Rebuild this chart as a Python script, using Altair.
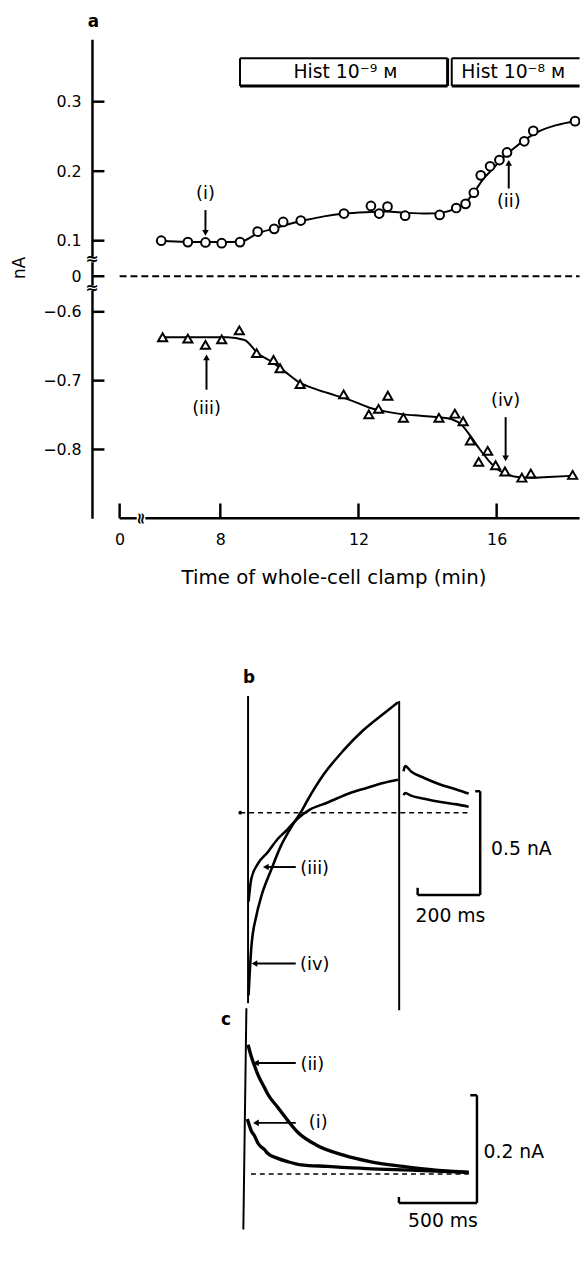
import altair as alt
import pandas as pd

FONT = "DejaVu Sans"
INK = "black"

# ---------------- panel a : values ----------------
circ_t = [6.29, 7.06, 7.57, 8.04, 8.57, 9.08, 9.56, 9.82, 10.33, 11.58, 12.36, 12.60, 12.84,
          13.35, 14.35, 14.83, 15.10, 15.34, 15.54, 15.81, 16.08, 16.30, 16.80, 17.06, 18.27]
circ_nA = [0.100, 0.096, 0.095, 0.093, 0.096, 0.113, 0.117, 0.127, 0.129, 0.139, 0.150, 0.139, 0.149,
           0.136, 0.137, 0.147, 0.153, 0.169, 0.194, 0.207, 0.216, 0.227, 0.243, 0.258, 0.272]
tri_t = [6.33, 7.06, 7.57, 8.04, 8.55, 9.05, 9.54, 9.73, 10.31, 11.57, 12.30, 12.58, 12.85,
         13.30, 14.33, 14.79, 15.03, 15.24, 15.48, 15.74, 15.97, 16.24, 16.73, 16.99, 18.20]
tri_nA = [-0.637, -0.639, -0.648, -0.640, -0.627, -0.660, -0.670, -0.682, -0.705, -0.720, -0.749, -0.741, -0.722,
          -0.754, -0.754, -0.748, -0.759, -0.787, -0.818, -0.802, -0.823, -0.832, -0.841, -0.835, -0.837]
fit_up_t = [6.29, 7.0, 7.6, 8.1, 8.6, 9.1, 9.6, 10.0, 10.5, 11.0, 11.6, 12.2, 12.8, 13.4, 14.0,
            14.4, 14.8, 15.1, 15.35, 15.6, 15.9, 16.2, 16.5, 16.9, 17.3, 17.7, 18.3]
fit_up_nA = [0.100, 0.097, 0.096, 0.096, 0.098, 0.111, 0.118, 0.124, 0.130, 0.135, 0.139, 0.141, 0.142, 0.140, 0.139,
             0.140, 0.146, 0.155, 0.170, 0.188, 0.204, 0.220, 0.233, 0.248, 0.259, 0.266, 0.272]
fit_lo_t = [6.33, 7.0, 7.6, 8.2, 8.7, 9.1, 9.5, 9.9, 10.3, 10.8, 11.3, 11.8, 12.3, 12.8, 13.3, 13.8,
            14.3, 14.7, 15.0, 15.25, 15.5, 15.75, 16.0, 16.3, 16.6, 17.0, 17.5, 18.3]
fit_lo_nA = [-0.637, -0.637, -0.637, -0.637, -0.641, -0.661, -0.673, -0.688, -0.703, -0.713, -0.721, -0.729,
             -0.739, -0.745, -0.749, -0.751, -0.753, -0.756, -0.765, -0.781, -0.799, -0.815, -0.828, -0.836,
             -0.840, -0.841, -0.840, -0.838]

hist_label = ["Hist 10\u207b\u2079 \u1d0d", "Hist 10\u207b\u2078 \u1d0d"]
hist_t0 = [8.57, 14.70]
hist_t1 = [14.58, 18.40]
hist_mid = [11.62, 16.48]
hist_lo, hist_hi, hist_text = 0.3227, 0.3624, 0.3426

y_ticks = [0.3, 0.2, 0.1, 0, -0.6, -0.7, -0.8]
x_ticks = [0, 8, 12, 16]

ann_a_label = ["(i)", "(ii)", "(iii)", "(iv)"]
ann_a_t = [7.57, 16.35, 7.60, 16.26]
ann_a_nA = [0.1677, 0.1557, -0.7406, -0.729]
arr_a_from = [0.144, 0.175, -0.7132, -0.753]
arr_a_head = [0.1113, 0.2121, -0.6662, -0.813]
arr_a_shape = ["triangle-down", "triangle-up", "triangle-up", "triangle-down"]

# ---------------- panel b : current traces (ms, nA) ----------------
b_iv_t = [1.6, 4.7, 10.4, 26, 42, 74, 105, 142, 168, 190, 242, 305, 368, 432, 479]
b_iv_nA = [-0.881, -0.79, -0.65, -0.50, -0.405, -0.275, -0.16, -0.06, 0.0, 0.06, 0.185, 0.30, 0.397, 0.476, 0.532]
b_iii_t = [1.5, 10.4, 31.6, 63.2, 94.7, 126.3, 157.9, 198.9, 252.6, 326.2, 378.9, 431.6, 479]
b_iii_nA = [-0.429, -0.318, -0.246, -0.190, -0.127, -0.080, -0.029, 0.016, 0.048, 0.095, 0.119, 0.143, 0.159]
b_tail_t = [497, 502, 521, 563, 616, 668, 705]
b_tail_iv = [0.20, 0.225, 0.199, 0.167, 0.135, 0.111, 0.092]
b_tail_iii = [0.085, 0.095, 0.082, 0.067, 0.051, 0.040, 0.029]

# ---------------- panel c : current traces (ms, nA) ----------------
c_ii_t = [6.3, 27, 49, 70, 112, 133, 196, 259, 323, 449, 618, 787, 998, 1209, 1420]
c_ii_nA = [0.240, 0.218, 0.200, 0.184, 0.160, 0.148, 0.124, 0.100, 0.078, 0.053, 0.035, 0.023, 0.014, 0.007, 0.003]
c_i_t = [2, 27, 49, 70, 112, 133, 196, 259, 344, 513, 766, 1082, 1420]
c_i_nA = [0.102, 0.080, 0.070, 0.057, 0.045, 0.038, 0.029, 0.023, 0.017, 0.014, 0.010, 0.007, 0.003]

# ---------------- scales ----------------
WA = 489
xA = alt.Scale(domain=[-1, 0, 5.5, 18.27], range=[0, 28, 42.5, WA], nice=False, zero=False)
yA = alt.Scale(domain=[-0.9, -0.6, 0, 0.1, 0.39], range=[485, 276, 240, 204, 0], nice=False, zero=False)
xB = alt.Scale(domain=[-498.9, 1045.2], nice=False, zero=False)
yB = alt.Scale(domain=[-0.9333, 1.4190], nice=False, zero=False)
xC = alt.Scale(domain=[-993.7, 2101.3], nice=False, zero=False)
yC = alt.Scale(domain=[-0.1033, 0.3114], nice=False, zero=False)

axX = alt.Axis(values=x_ticks, domain=False, ticks=False, grid=False, labelPadding=14,
               labelFontSize=16, labelFont=FONT, labelColor=INK, labelFlush=False,
               labelOverlap=False, format="d", title="Time of whole-cell clamp (min)",
               titleFont=FONT, titleFontSize=20, titleFontWeight="normal", titleColor=INK,
               titlePadding=20)
axY = alt.Axis(values=y_ticks, domain=True, domainColor=INK, domainWidth=2.5, ticks=False,
               grid=False, labelPadding=11, labelFontSize=16, labelFont=FONT, labelColor=INK,
               labelFlush=False, labelOverlap=False,
               labelExpr="datum.value == 0 ? '0' : format(datum.value, '.1f')",
               title="nA", titleFont=FONT, titleFontSize=17, titleFontWeight="normal",
               titleColor=INK, titleX=-64, titleY=231)


def XA(f="t"):
    return alt.X(f, type="quantitative", scale=xA, axis=axX)


def YA(f="nA"):
    return alt.Y(f, type="quantitative", scale=yA, axis=axY)


def XB(f="t"):
    return alt.X(f, type="quantitative", scale=xB, axis=None)


def YB(f="nA"):
    return alt.Y(f, type="quantitative", scale=yB, axis=None)


def XC(f="t"):
    return alt.X(f, type="quantitative", scale=xC, axis=None)


def YC(f="nA"):
    return alt.Y(f, type="quantitative", scale=yC, axis=None)


def txt(**kw):
    base = dict(font=FONT, color=INK, baseline="middle", align="center")
    base.update(kw)
    return base


# ---------------- panel a layers ----------------
zero_a = alt.Chart(pd.DataFrame({"t": [0], "t2": [18.40], "nA": [0]})).mark_rule(
    color=INK, strokeWidth=1.8, strokeDash=[7, 4]
).encode(x=XA(), x2="t2", y=YA())

hist_df = pd.DataFrame({"t": hist_t0, "t2": hist_t1, "nA": [hist_lo] * 2, "nA2": [hist_hi] * 2,
                        "tm": hist_mid, "ny": [hist_text] * 2, "label": hist_label})
hist_box = alt.Chart(hist_df).mark_rect(fill="white", strokeWidth=0).encode(
    x=XA(), x2="t2", y=YA(), y2="nA2")
hist_top = alt.Chart(hist_df).mark_rule(color=INK, strokeWidth=2).encode(
    x=XA(), x2="t2", y=YA("nA2"))
hist_bottom = alt.Chart(hist_df).mark_rule(color=INK, strokeWidth=3).encode(
    x=XA(), x2="t2", y=YA())
hist_left = alt.Chart(hist_df).mark_rule(color=INK, strokeWidth=2).encode(
    x=XA(), y=YA(), y2="nA2")
hist_right = alt.Chart(hist_df.iloc[:1]).mark_rule(color=INK, strokeWidth=3).encode(
    x=XA("t2"), y=YA(), y2="nA2")
hist_txt = alt.Chart(hist_df).mark_text(**txt(fontSize=19)).encode(
    x=XA("tm"), y=YA("ny"), text="label")

fit_up = alt.Chart(pd.DataFrame({"t": fit_up_t, "nA": fit_up_nA})).mark_line(
    color=INK, strokeWidth=2, interpolate="monotone").encode(x=XA(), y=YA())
fit_lo = alt.Chart(pd.DataFrame({"t": fit_lo_t, "nA": fit_lo_nA})).mark_line(
    color=INK, strokeWidth=2, interpolate="monotone").encode(x=XA(), y=YA())
circles = alt.Chart(pd.DataFrame({"t": circ_t, "nA": circ_nA})).mark_point(
    shape="circle", filled=True, fill="white", stroke=INK, strokeWidth=2, size=78, opacity=1
).encode(x=XA(), y=YA())
triangles = alt.Chart(pd.DataFrame({"t": tri_t, "nA": tri_nA})).mark_point(
    shape="triangle-up", filled=True, fill="white", stroke=INK, strokeWidth=2, size=85, opacity=1
).encode(x=XA(), y=YA())

ytick_df = pd.DataFrame({"t": [-1] * len(y_ticks), "t2": [-0.55] * len(y_ticks), "nA": y_ticks})
yticks = alt.Chart(ytick_df).mark_rule(color=INK, strokeWidth=2.5).encode(x=XA(), x2="t2", y=YA())

xtick_df = pd.DataFrame({"t": x_ticks, "nA": [-0.9] * 4, "nA2": [-0.8785] * 4})
xticks = alt.Chart(xtick_df).mark_rule(color=INK, strokeWidth=2.5).encode(x=XA(), y=YA(), y2="nA2")

xline_df = pd.DataFrame({"t": [0, 5.83], "t2": [5.58, 18.40], "nA": [-0.9, -0.9]})
xline = alt.Chart(xline_df).mark_rule(color=INK, strokeWidth=2.5).encode(x=XA(), x2="t2", y=YA())

brk_df = pd.DataFrame({"t": [-1, -1, 5.7], "nA": [0.047, -0.2, -0.9], "ang": [0, 0, 90], "s": ["\u2248"] * 3})
brk_gap = alt.Chart(brk_df).mark_point(shape="square", filled=True, color="white", size=30,
                                       opacity=1).encode(x=XA(), y=YA())
brk_sym = alt.Chart(brk_df).mark_text(**txt(fontSize=16, fontWeight="bold")).encode(
    x=XA(), y=YA(), text="s", angle=alt.Angle("ang:Q", scale=None))

ann_df = pd.DataFrame({"t": ann_a_t, "nA": ann_a_nA, "label": ann_a_label,
                       "a0": arr_a_from, "a1": arr_a_head, "shape": arr_a_shape})
ann_txt = alt.Chart(ann_df).mark_text(**txt(fontSize=18)).encode(x=XA(), y=YA(), text="label")
ann_line = alt.Chart(ann_df).mark_rule(color=INK, strokeWidth=2).encode(x=XA(), y=YA("a0"), y2="a1")
ann_head = alt.Chart(ann_df).mark_point(filled=True, color=INK, size=45, opacity=1).encode(
    x=XA(), y=YA("a1"), shape=alt.Shape("shape:N", scale=None))

lab_a = alt.Chart(pd.DataFrame({"t": [-0.95], "nA": [0.4142], "s": ["a"]})).mark_text(
    **txt(fontSize=17, fontWeight="bold")).encode(x=XA(), y=YA(), text="s")

panel_a = alt.layer(zero_a, hist_box, hist_top, hist_bottom, hist_left, hist_right, hist_txt,
                    fit_up, fit_lo, circles, triangles, yticks, xticks, xline, brk_gap, brk_sym,
                    ann_line, ann_head, ann_txt, lab_a).properties(width=WA, height=485)

# ---------------- panel b layers ----------------
b_vert = alt.Chart(pd.DataFrame({"t": [0, 483], "nA": [0.562, 0.538], "nA2": [-0.919, -0.952]})).mark_rule(
    color=INK, strokeWidth=2).encode(x=XB(), y=YB(), y2="nA2")
b_zero = alt.Chart(pd.DataFrame({"t": [-25], "t2": [704], "nA": [0]})).mark_rule(
    color=INK, strokeWidth=1.6, strokeDash=[5, 4]).encode(x=XB(), x2="t2", y=YB())
b_dot = alt.Chart(pd.DataFrame({"t": [-25], "nA": [0]})).mark_point(
    shape="circle", filled=True, color=INK, size=14, opacity=1).encode(x=XB(), y=YB())
b_trace_df = pd.concat([
    pd.DataFrame({"t": b_iv_t, "nA": b_iv_nA, "k": "iv"}),
    pd.DataFrame({"t": b_iii_t, "nA": b_iii_nA, "k": "iii"}),
    pd.DataFrame({"t": b_tail_t, "nA": b_tail_iv, "k": "iv tail"}),
    pd.DataFrame({"t": b_tail_t, "nA": b_tail_iii, "k": "iii tail"}),
])
b_traces = alt.Chart(b_trace_df).mark_line(color=INK, strokeWidth=2.6, interpolate="monotone").encode(
    x=XB(), y=YB(), detail="k:N")
b_bar = alt.Chart(pd.DataFrame({"t": [742, 726, 542, 542], "t2": [742, 742, 742, 542],
                                "nA": [0.1033, 0.1033, -0.3967, -0.3967],
                                "nA2": [-0.3967, 0.1033, -0.3967, -0.362]})).mark_rule(
    color=INK, strokeWidth=2.5).encode(x=XB(), x2="t2", y=YB(), y2="nA2")
b_bar_left = alt.Chart(pd.DataFrame({"t": [776.8], "nA": [-0.176], "s": ["0.5 nA"]})).mark_text(
    **txt(fontSize=19, align="left")).encode(x=XB(), y=YB(), text="s")
b_bar_mid = alt.Chart(pd.DataFrame({"t": [647], "nA": [-0.5], "s": ["200 ms"]})).mark_text(
    **txt(fontSize=19)).encode(x=XB(), y=YB(), text="s")
b_ann = pd.DataFrame({"t": [213, 213], "nA": [-0.273, -0.735], "s": ["(iii)", "(iv)"],
                      "a0": [152.5, 152.5], "a1": [56.8, 20.5], "ay": [-0.262, -0.727]})
b_ann_txt = alt.Chart(b_ann).mark_text(**txt(fontSize=18)).encode(x=XB(), y=YB(), text="s")
b_ann_line = alt.Chart(b_ann).mark_rule(color=INK, strokeWidth=2).encode(x=XB("a0"), x2="a1", y=YB("ay"))
b_ann_head = alt.Chart(b_ann).mark_point(shape="triangle-left", filled=True, color=INK, size=45,
                                         opacity=1).encode(x=XB("a1"), y=YB("ay"))
b_lab = alt.Chart(pd.DataFrame({"t": [3], "nA": [0.65], "s": ["b"]})).mark_text(
    **txt(fontSize=17, fontWeight="bold")).encode(x=XB(), y=YB(), text="s")

panel_b = alt.layer(b_zero, b_dot, b_vert, b_traces, b_bar, b_bar_left, b_bar_mid, b_ann_line,
                    b_ann_head, b_ann_txt, b_lab).properties(width=WA, height=494)

# ---------------- panel c layers ----------------
c_vert = alt.Chart(pd.DataFrame({"t": [-4.4], "t2": [-24], "nA": [0.3077], "nA2": [-0.1033]})).mark_rule(
    color=INK, strokeWidth=2).encode(x=XC(), x2="t2", y=YC(), y2="nA2")
c_zero = alt.Chart(pd.DataFrame({"t": [25], "t2": [1420], "nA": [0]})).mark_rule(
    color=INK, strokeWidth=1.6, strokeDash=[5, 4]).encode(x=XC(), x2="t2", y=YC())
c_trace_df = pd.concat([
    pd.DataFrame({"t": c_ii_t, "nA": c_ii_nA, "k": "ii"}),
    pd.DataFrame({"t": c_i_t, "nA": c_i_nA, "k": "i"}),
])
c_traces = alt.Chart(c_trace_df).mark_line(color=INK, strokeWidth=3.4, interpolate="monotone").encode(
    x=XC(), y=YC(), detail="k:N")
c_bar = alt.Chart(pd.DataFrame({"t": [1472.8, 1430, 972.8, 972.8], "t2": [1472.8, 1472.8, 1472.8, 972.8],
                                "nA": [0.1462, 0.1462, -0.0538, -0.0538],
                                "nA2": [-0.0538, 0.1462, -0.0538, -0.0428]})).mark_rule(
    color=INK, strokeWidth=2.5).encode(x=XC(), x2="t2", y=YC(), y2="nA2")
c_bar_left = alt.Chart(pd.DataFrame({"t": [1514.6], "nA": [0.0411], "s": ["0.2 nA"]})).mark_text(
    **txt(fontSize=19, align="left")).encode(x=XC(), y=YC(), text="s")
c_bar_mid = alt.Chart(pd.DataFrame({"t": [1255], "nA": [-0.088], "s": ["500 ms"]})).mark_text(
    **txt(fontSize=19)).encode(x=XC(), y=YC(), text="s")
c_ann = pd.DataFrame({"t": [418, 456], "nA": [0.2031, 0.0943], "s": ["(ii)", "(i)"],
                      "a0": [312, 312], "a1": [57, 57], "ay": [0.2062, 0.0949]})
c_ann_txt = alt.Chart(c_ann).mark_text(**txt(fontSize=18)).encode(x=XC(), y=YC(), text="s")
c_ann_line = alt.Chart(c_ann).mark_rule(color=INK, strokeWidth=2).encode(x=XC("a0"), x2="a1", y=YC("ay"))
c_ann_head = alt.Chart(c_ann).mark_point(shape="triangle-left", filled=True, color=INK, size=45,
                                         opacity=1).encode(x=XC("a1"), y=YC("ay"))
c_lab = alt.Chart(pd.DataFrame({"t": [-136], "nA": [0.2857], "s": ["c"]})).mark_text(
    **txt(fontSize=17, fontWeight="bold")).encode(x=XC(), y=YC(), text="s")

panel_c = alt.layer(c_zero, c_vert, c_traces, c_bar, c_bar_left, c_bar_mid, c_ann_line, c_ann_head,
                    c_ann_txt, c_lab).properties(width=WA, height=226)

chart = alt.vconcat(panel_a, panel_b, panel_c, spacing=0, bounds="flush").properties(
    padding={"left": 3, "top": -3, "right": -4, "bottom": 0}, background="white"
).configure_view(stroke=None)

chart.save("out.html", embed_options={"renderer": "svg", "actions": False})
